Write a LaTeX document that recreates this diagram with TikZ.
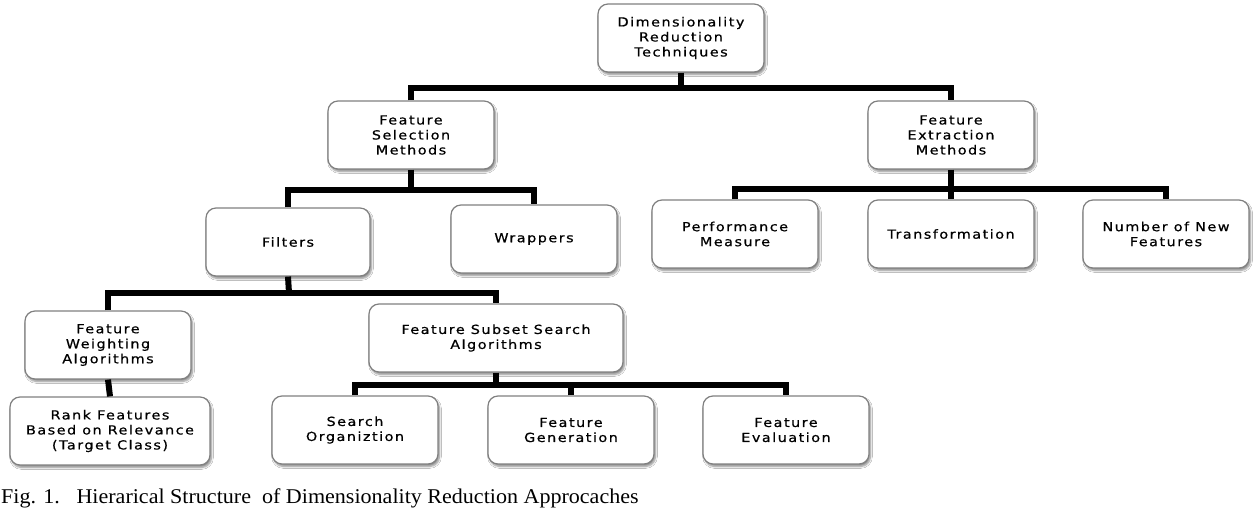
\documentclass[tikz,border=0pt]{standalone}
\usepackage{fontspec}
\setmainfont{Liberation Serif}
\newfontfamily\boxfont[LetterSpace=12,FakeStretch=1.15,FakeBold=0.6]{DejaVu Sans}
\usetikzlibrary{shadows.blur}
\tikzset{
  box/.style={draw=black!50, line width=1.2pt, rounded corners=10pt, fill=white,
    align=center, font=\boxfont\fontsize{12.5}{15}\selectfont, text=black,
    minimum width=166pt, minimum height=68pt, inner sep=0pt,
    blur shadow={shadow xshift=1.5pt, shadow yshift=-2.5pt, shadow blur steps=6, shadow opacity=45}},
  conn/.style={line width=6pt, draw=black, line join=miter},
}
\begin{document}
\begin{tikzpicture}[x=1pt,y=-1pt]
\useasboundingbox (0,0) rectangle (1260,508);
\fill[white] (0,0) rectangle (1260,508);
% nodes
\node[box] (drt) at (681,38) {Dimensionality\\Reduction\\Techniques};
\node[box] (fsm) at (411,135) {Feature\\Selection\\Methods};
\node[box] (fem) at (951,135) {Feature\\Extraction\\Methods};
\node[box, minimum width=164pt] (filters) at (288,242) {Filters};
\node[box] (wrappers) at (534,239) {Wrappers};
\node[box] (pm) at (735,234) {Performance\\Measure};
\node[box] (trans) at (951,234) {Transformation};
\node[box] (nnf) at (1166,234) {Number of New\\Features};
\node[box] (fwa) at (108,345) {Feature\\Weighting\\Algorithms};
\node[box, minimum width=254pt] (fssa) at (496,338) {Feature Subset Search\\Algorithms};
\node[box, minimum width=200pt] (rank) at (110,431) {Rank Features\\Based on Relevance\\(Target Class)};
\node[box] (so) at (355,430) {Search\\Organiztion};
\node[box] (fg) at (571,430) {Feature\\Generation};
\node[box] (fe) at (786,430) {Feature\\Evaluation};
% junctions
\coordinate (j1) at (681,88);
\coordinate (j2) at (411,190);
\coordinate (j3) at (289,293);
\coordinate (j4) at (496,385);
\coordinate (j5) at (951,189);
% connectors
\draw[conn] (drt.south) -- (j1);
\draw[conn] (fsm.north) |- (j1) -| (fem.north);
\draw[conn] (fsm.south) -- (j2);
\draw[conn] (filters.north) |- (j2) -| (wrappers.north);
\draw[conn] (fem.south) -- (j5);
\draw[conn] (pm.north) |- (j5) -| (nnf.north);
\draw[conn] (trans.north) -- (j5);
\draw[conn] (filters.south) -- (j3);
\draw[conn] (fwa.north) |- (j3) -| (fssa.north);
\draw[conn] (fwa.south) -- (rank.north);
\draw[conn] (fssa.south) -- (j4);
\draw[conn] (so.north) |- (j4) -| (fe.north);
\draw[conn] (fg.north) -- (fg.north |- j4);
% caption
\node[anchor=base west, inner sep=0pt, font=\fontsize{21}{21}\selectfont] (cap) at (1,503)
  {\scalebox{1.05}[1]{Fig. 1.\ \ \ Hierarical Structure\ \ of Dimensionality Reduction Approcaches}};
\end{tikzpicture}
\end{document}
